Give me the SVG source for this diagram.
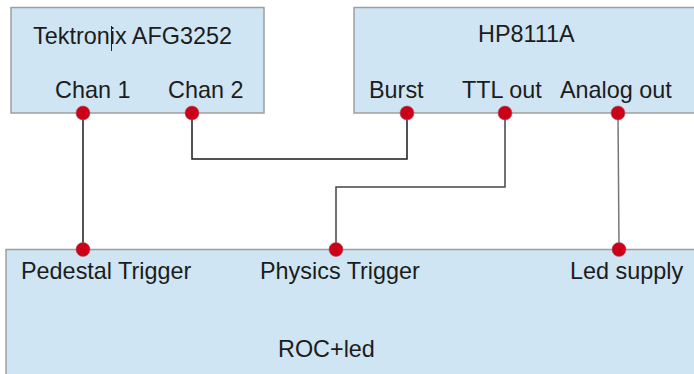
<svg xmlns="http://www.w3.org/2000/svg" width="694" height="374" viewBox="0 0 694 374">
<style>
.box{fill:#cfe5f3;stroke:#9e9e9e;stroke-width:1.5}
.lbl{font-family:"Liberation Sans",Arial,sans-serif;font-size:23.4px;fill:#1c1c1c}
.dot{fill:#cc0018;stroke:#a06068;stroke-width:0.6}
.wire{fill:none;stroke-width:1.5}
</style>
<rect width="694" height="374" fill="#ffffff"/>
<g id="tektronix">
<rect class="box" x="11" y="7.5" width="253" height="105.5"/>
<text class="lbl" x="33" y="44">Tektronix AFG3252</text>
<line x1="111.5" y1="26" x2="111.5" y2="51" stroke="#222" stroke-width="1"/>
<text class="lbl" x="55" y="98">Chan 1</text>
<text class="lbl" x="168" y="98">Chan 2</text>
</g>
<g id="hp8111a">
<rect class="box" x="354" y="7.5" width="350" height="105.5"/>
<text class="lbl" x="478" y="42">HP8111A</text>
<text class="lbl" x="369" y="98">Burst</text>
<text class="lbl" x="462" y="98">TTL out</text>
<text class="lbl" x="560" y="98">Analog out</text>
</g>
<g id="roc-led">
<rect class="box" x="6" y="249.5" width="700" height="140"/>
<text class="lbl" x="21" y="279">Pedestal Trigger</text>
<text class="lbl" x="260" y="279">Physics Trigger</text>
<text class="lbl" x="570" y="279">Led supply</text>
<text class="lbl" x="278" y="357">ROC+led</text>
</g>
<g id="connectors">
<polyline class="wire" stroke="#1a1a1a" points="83,113 83,250"/>
<polyline class="wire" stroke="#1a1a1a" points="192,113 192,159 407,159 407,113"/>
<polyline class="wire" stroke="#444" points="505,113 505,187 336,187 336,250"/>
<polyline class="wire" stroke="#777" stroke-width="1.2" points="618,113 619,249"/>
</g>
<g id="ports">
<circle class="dot" cx="83" cy="113" r="7"/>
<circle class="dot" cx="192" cy="113" r="7"/>
<circle class="dot" cx="407" cy="113" r="7"/>
<circle class="dot" cx="505" cy="113" r="7"/>
<circle class="dot" cx="618" cy="113" r="7"/>
<circle class="dot" cx="83" cy="249.5" r="7"/>
<circle class="dot" cx="336" cy="249.5" r="7"/>
<circle class="dot" cx="619" cy="249.5" r="7"/>
</g>
</svg>
